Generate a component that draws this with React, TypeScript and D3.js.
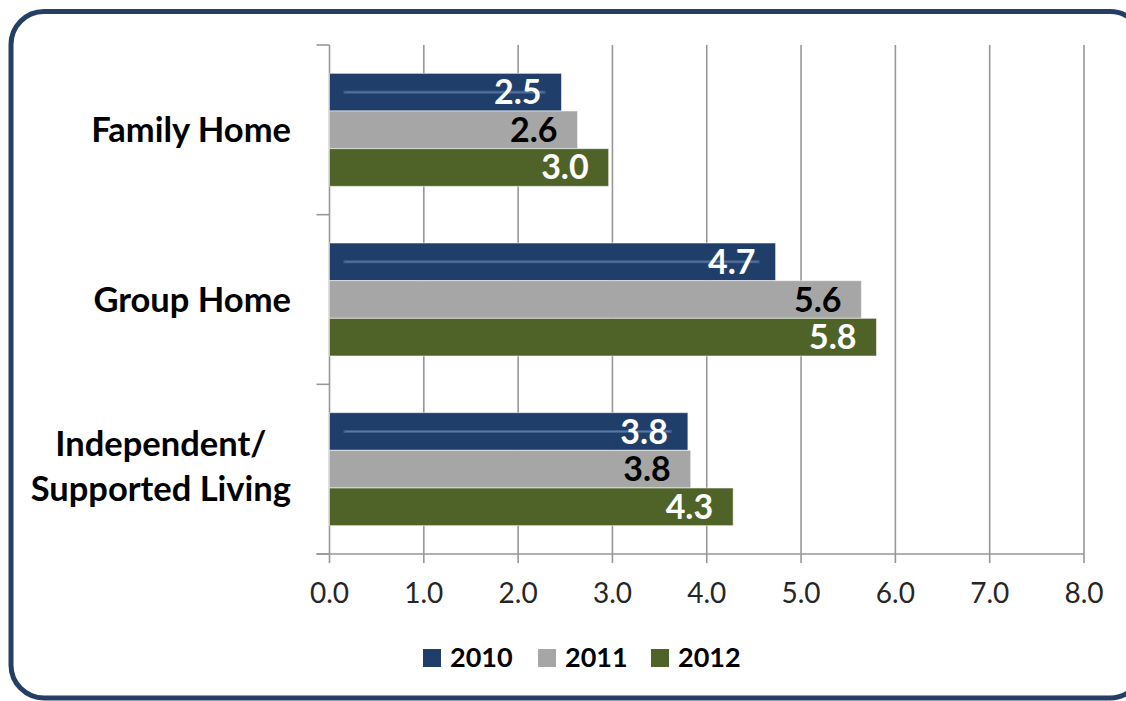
import React, { useEffect, useRef } from 'react';
import * as d3 from 'd3';

const categories = ['Family Home', 'Group Home', 'Independent/\nSupported Living'];
const seriesNames = ['2010', '2011', '2012'];
const values2010 = [2.46, 4.73, 3.8];
const values2011 = [2.63, 5.64, 3.83];
const values2012 = [2.96, 5.8, 4.28];
const tickValues = [0, 1, 2, 3, 4, 5, 6, 7, 8];

const seriesValues = [values2010, values2011, values2012];
const colors = ['#1f3e6a', '#a6a6a6', '#4f6228'];
const labelColors = ['#ffffff', '#000000', '#ffffff'];

const W = 1126;
const H = 701;
const FONT = 'Lato, "Open Sans", sans-serif';

export default function App() {
  const ref = useRef<SVGSVGElement | null>(null);

  useEffect(() => {
    const svg = d3.select(ref.current);
    svg.selectAll('*').remove();

    // border
    svg.append('rect')
      .attr('x', 11).attr('y', 11.5)
      .attr('width', 1132).attr('height', 686.5)
      .attr('rx', 33).attr('ry', 33)
      .attr('fill', '#ffffff')
      .attr('stroke', '#243f63')
      .attr('stroke-width', 5);

    const x = d3.scaleLinear().domain([0, 8]).range([329.5, 1084]);
    const y = d3.scaleBand<string>().domain(categories).range([45, 554])
      .paddingInner(0.334).paddingOuter(0.167);
    const ys = d3.scaleBand<string>().domain(seriesNames).range([0, y.bandwidth()]);

    const plotTop = 45;
    const plotBottom = 554;

    // gridlines
    const grid = svg.append('g');
    tickValues.forEach((t) => {
      grid.append('line')
        .attr('x1', x(t)).attr('x2', x(t))
        .attr('y1', t === 0 ? plotBottom : plotTop).attr('y2', plotBottom + 9)
        .attr('stroke', '#979797').attr('stroke-width', 1.6);
    });

    // category axis
    grid.append('line')
      .attr('x1', x(0)).attr('x2', x(0))
      .attr('y1', plotTop).attr('y2', plotBottom)
      .attr('stroke', '#979797').attr('stroke-width', 1.6);
    const boundaries = [0, 1, 2, 3].map((i) => plotTop + (i * (plotBottom - plotTop)) / 3);
    boundaries.forEach((b) => {
      grid.append('line')
        .attr('x1', x(0) - 13).attr('x2', x(0))
        .attr('y1', b).attr('y2', b)
        .attr('stroke', '#979797').attr('stroke-width', 1.6);
    });
    // value axis line
    grid.append('line')
      .attr('x1', x(0) - 13).attr('x2', x(8))
      .attr('y1', plotBottom).attr('y2', plotBottom)
      .attr('stroke', '#979797').attr('stroke-width', 1.6);

    // bars
    const bars = svg.append('g');
    seriesNames.forEach((s, si) => {
      categories.forEach((c, ci) => {
        const v = seriesValues[si][ci];
        const by = (y(c) as number) + (ys(s) as number);
        const bh = ys.bandwidth();
        bars.append('rect')
          .attr('x', x(0)).attr('y', by)
          .attr('width', x(v) - x(0)).attr('height', bh)
          .attr('fill', colors[si])
          .attr('stroke', 'rgba(255,255,255,0.55)')
          .attr('stroke-width', 1);
        if (si === 0) {
          bars.append('line')
            .attr('x1', x(0) + 14).attr('x2', x(v) - 16)
            .attr('y1', by + bh / 2).attr('y2', by + bh / 2)
            .attr('stroke', '#3f5f8c').attr('stroke-width', 3);
          bars.append('line')
            .attr('x1', x(0) + 16).attr('x2', x(v) - 18)
            .attr('y1', by + bh / 2).attr('y2', by + bh / 2)
            .attr('stroke', '#5a78a2').attr('stroke-width', 1);
        }
        bars.append('text')
          .attr('x', x(v) - 20)
          .attr('y', by + bh / 2 + 12)
          .attr('text-anchor', 'end')
          .attr('font-family', FONT)
          .attr('font-weight', 700)
          .attr('font-size', 34)
          .attr('fill', labelColors[si])
          .text(v.toFixed(1));
      });
    });

    // category labels
    const catG = svg.append('g');
    categories.forEach((c) => {
      const lines = c.split('\n');
      const center = (y(c) as number) + y.bandwidth() / 2;
      const texts = lines.map((ln, i) =>
        catG.append('text')
          .attr('y', center + 12 + (i - (lines.length - 1) / 2) * 45 - (lines.length > 1 ? 3 : 0))
          .attr('text-anchor', 'middle')
          .attr('font-family', FONT)
          .attr('font-weight', 700)
          .attr('font-size', 34.5)
          .attr('fill', '#000')
          .text(ln)
      );
      const maxW = d3.max(texts, (t) => (t.node() as SVGTextElement).getComputedTextLength()) || 0;
      texts.forEach((t) => t.attr('x', 291 - maxW / 2));
    });

    // tick labels
    const tickG = svg.append('g');
    tickValues.forEach((t) => {
      tickG.append('text')
        .attr('x', x(t)).attr('y', 603)
        .attr('text-anchor', 'middle')
        .attr('font-family', FONT)
        .attr('font-size', 28)
        .attr('fill', '#262626')
        .text(t.toFixed(1));
    });

    // legend
    const legendX = [423, 538, 651];
    const legG = svg.append('g');
    seriesNames.forEach((s, si) => {
      legG.append('rect')
        .attr('x', legendX[si]).attr('y', 649)
        .attr('width', 18).attr('height', 18)
        .attr('fill', colors[si]);
      legG.append('text')
        .attr('x', legendX[si] + 27).attr('y', 667)
        .attr('font-family', FONT)
        .attr('font-weight', 700)
        .attr('font-size', 27)
        .attr('fill', '#000')
        .text(s);
    });
  }, []);

  return (
    <svg
      ref={ref}
      width={W}
      height={H}
      style={{ position: 'absolute', left: 0, top: 0, display: 'block', background: '#fff' }}
    />
  );
}
